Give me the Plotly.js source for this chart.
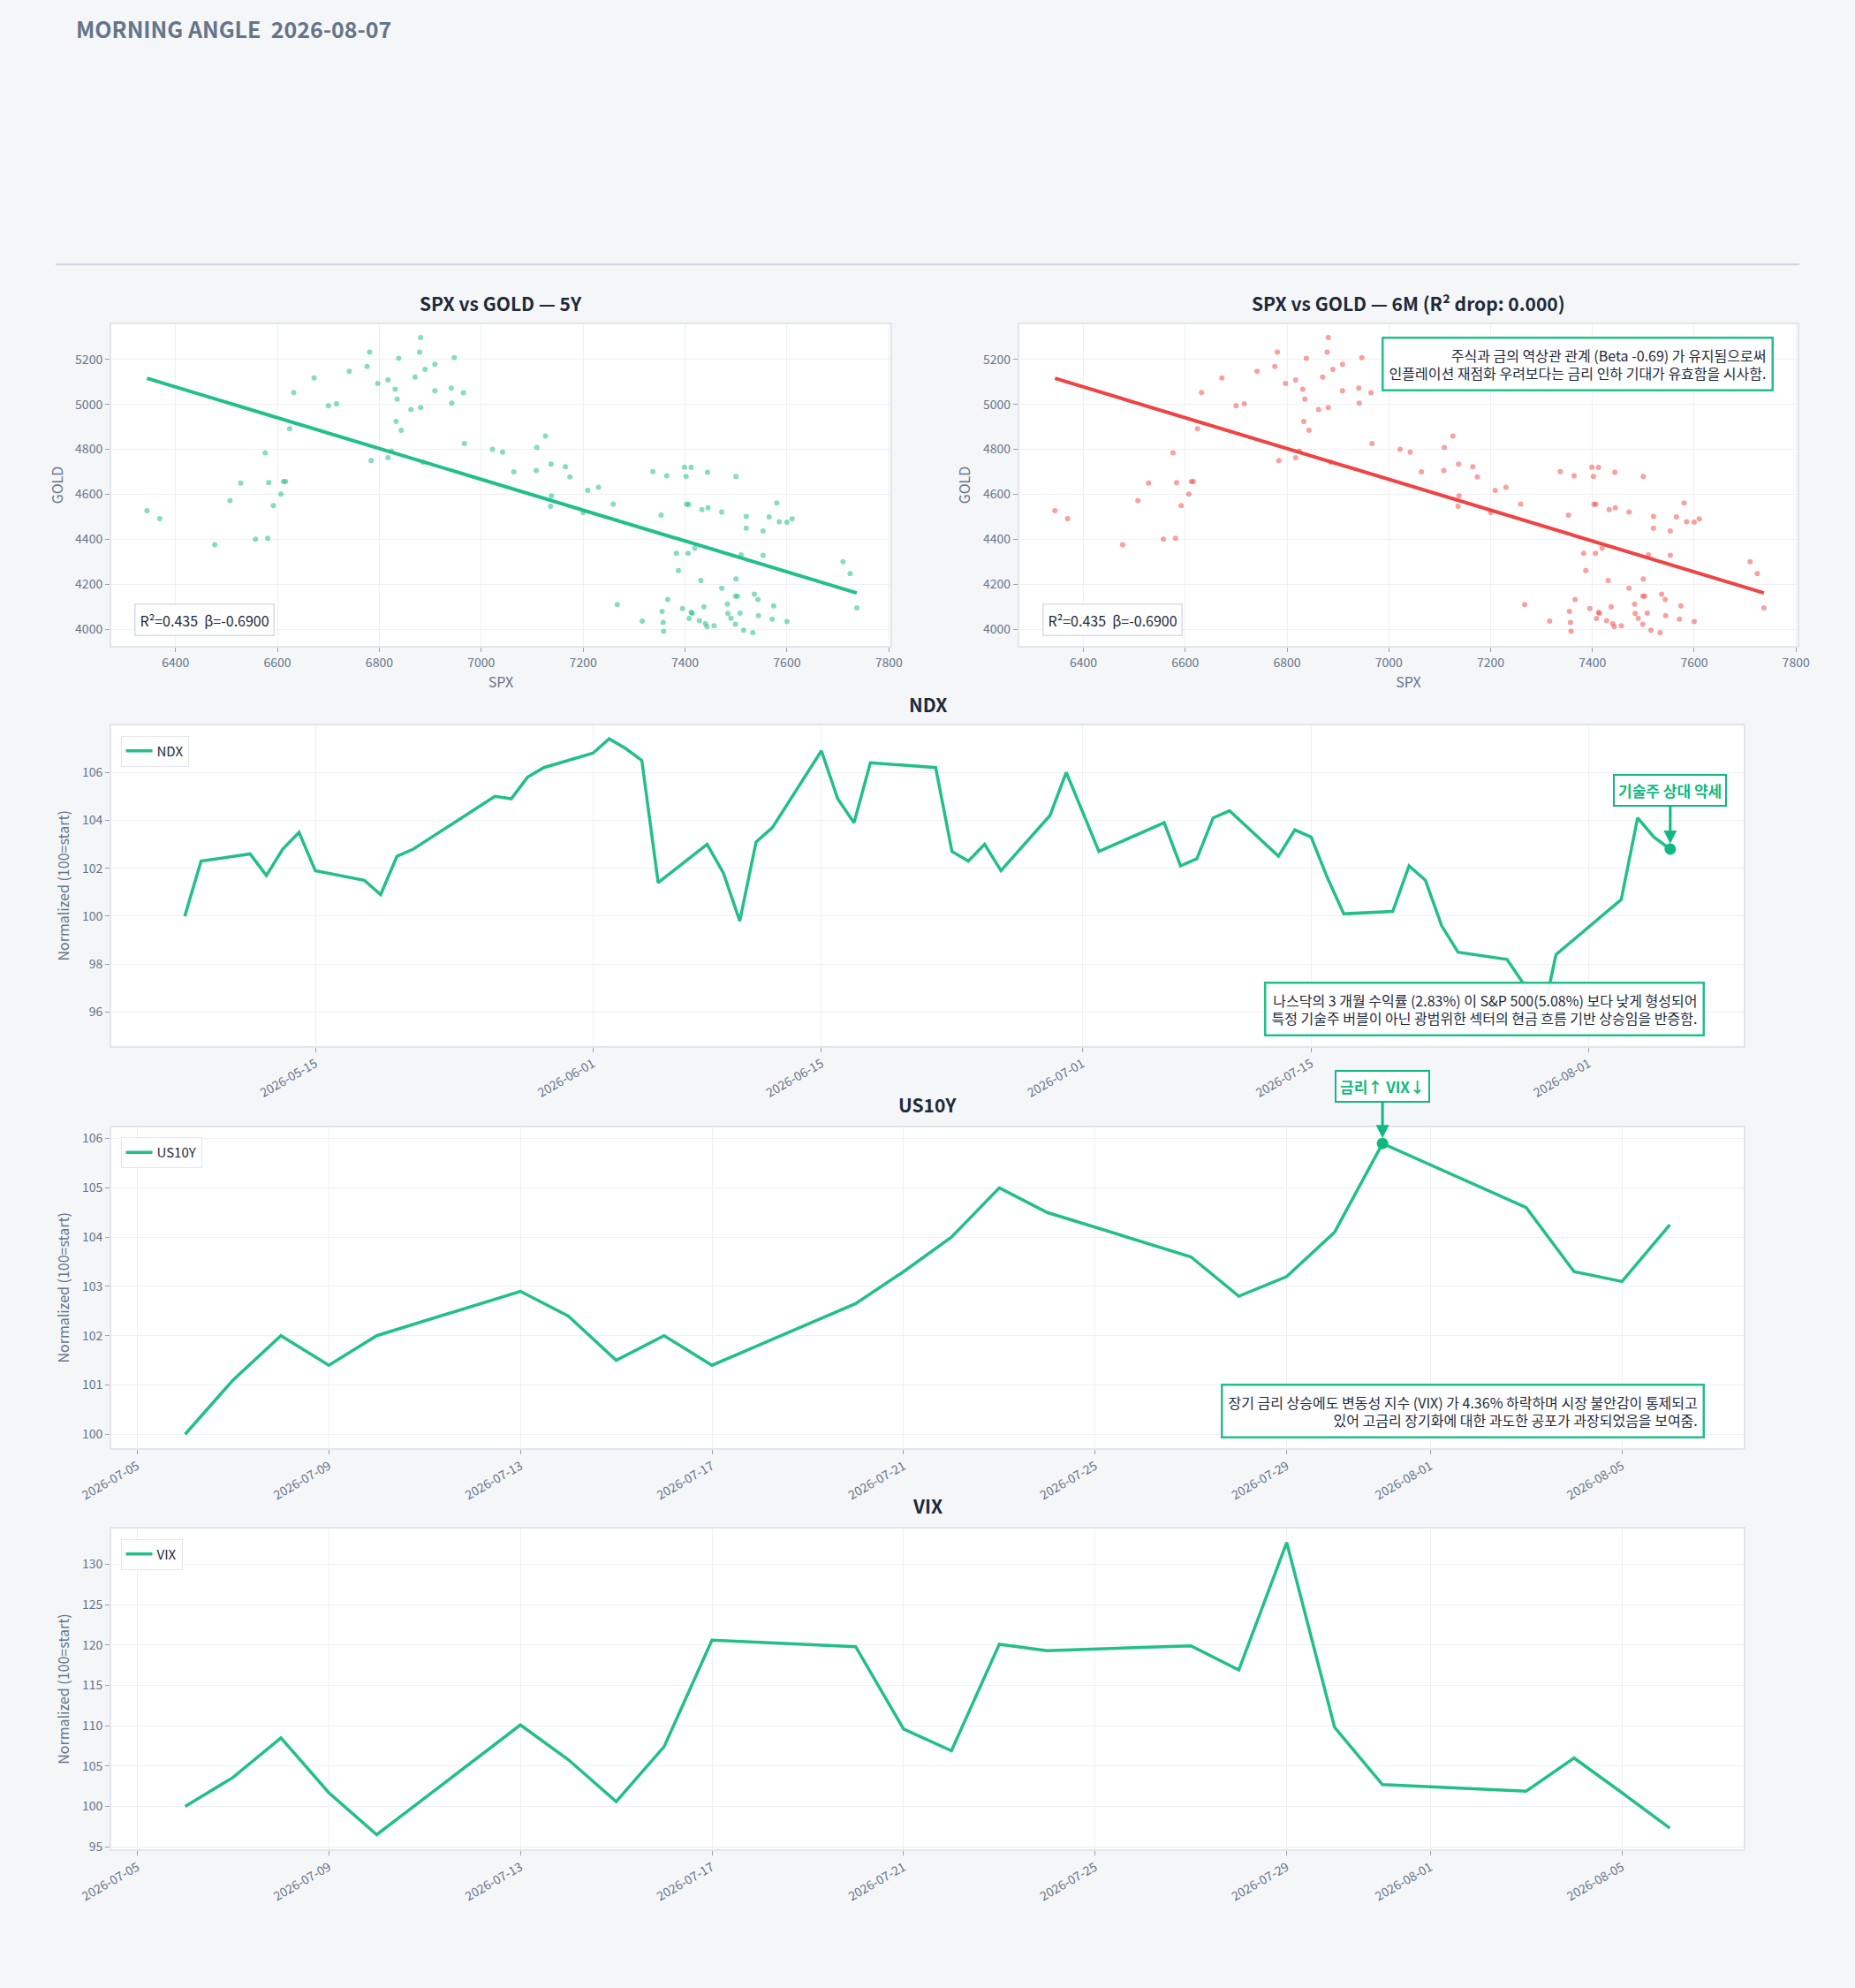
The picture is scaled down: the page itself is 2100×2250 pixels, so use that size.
<!DOCTYPE html>
<html>
<head>
<meta charset="utf-8">
<script src="https://cdn.plot.ly/plotly-3.0.1.min.js"></script>
<style>body{margin:0;background:#f5f6f8}#chart{width:2100px;height:2250px}</style>
</head>
<body>
<div id="chart"></div>
<script>
// ---------- data ----------
const spx = [6344,6369,6477,6507,6528,6557,6576,6581,6583,6592,6607,6612,6616,6624,6632,6672,6700,6716,6741,6776,6781,6784,6797,6817,6817,6824,6831,6833,6835,6838,6843,6862,6870,6879,6881,6881,6886,6890,6909,6909,6941,6942,6947,6965,6967,7022,7042,7064,7108,7109,7126,7137,7138,7136,7165,7174,7200,7209,7230,7259,7267,7316,7337,7353,7355,7357,7358,7364,7366,7383,7387,7395,7399,7402,7403,7406,7407,7408,7412,7412,7414,7419,7428,7431,7433,7437,7440,7443,7444,7445,7457,7472,7472,7483,7484,7490,7499,7500,7500,7499,7503,7508,7510,7515,7520,7520,7533,7536,7543,7544,7553,7553,7565,7571,7574,7580,7585,7600,7600,7610,7710,7724,7737];
const gold = [4527,4492,4376,4572,4650,4400,4784,4404,4652,4550,4601,4657,4657,4891,5053,5117,4994,5002,5147,5168,5232,4750,5093,5109,4763,4792,5067,4924,5023,5205,4885,4977,5121,5232,5297,4986,4743,5156,5178,5060,5072,5005,5208,5052,4826,4800,4787,4700,4706,4808,4859,4734,4593,4547,4723,4677,4519,4617,4631,4557,4110,4036,4701,4507,4079,4030,3991,4682,4132,4338,4261,4092,4721,4679,4556,4338,4556,4048,4720,4075,4070,4360,4038,4217,4532,4100,4025,4011,4698,4540,4015,4521,4182,4112,4070,4049,4147,4679,4224,4022,4147,4071,4331,3996,4502,4449,3985,4156,4132,4061,4437,4329,4500,4045,4104,4561,4478,4034,4476,4491,4300,4247,4095];
const statText = "R²=0.435  β=-0.6900";

const ndxDates = ["2026-05-07","2026-05-08","2026-05-11","2026-05-12","2026-05-13","2026-05-14","2026-05-15","2026-05-18","2026-05-19","2026-05-20","2026-05-21","2026-05-26","2026-05-27","2026-05-28","2026-05-29","2026-06-01","2026-06-02","2026-06-03","2026-06-04","2026-06-05","2026-06-08","2026-06-09","2026-06-10","2026-06-11","2026-06-12","2026-06-15","2026-06-16","2026-06-17","2026-06-18","2026-06-22","2026-06-23","2026-06-24","2026-06-25","2026-06-26","2026-06-29","2026-06-30","2026-07-02","2026-07-06","2026-07-07","2026-07-08","2026-07-09","2026-07-10","2026-07-13","2026-07-14","2026-07-15","2026-07-16","2026-07-17","2026-07-20","2026-07-21","2026-07-22","2026-07-23","2026-07-24","2026-07-27","2026-07-28","2026-07-29","2026-07-30","2026-08-03","2026-08-04","2026-08-05","2026-08-06"];
const ndxValues = [100.0,102.3,102.6,101.7,102.8,103.5,101.9,101.5,100.9,102.5,102.8,105.0,104.9,105.8,106.2,106.8,107.4,107.0,106.5,101.4,103.0,101.8,99.8,103.1,103.7,106.9,104.9,103.9,106.4,106.2,102.7,102.3,103.0,101.9,104.2,106.0,102.7,103.9,102.1,102.4,104.1,104.4,102.5,103.6,103.3,101.6,100.1,100.2,102.1,101.5,99.6,98.5,98.2,97.2,95.2,98.4,100.7,104.1,103.3,102.8];
const ndxTicks = ["2026-05-15","2026-06-01","2026-06-15","2026-07-01","2026-07-15","2026-08-01"];

const rateDates = ["2026-07-06","2026-07-07","2026-07-08","2026-07-09","2026-07-10","2026-07-13","2026-07-14","2026-07-15","2026-07-16","2026-07-17","2026-07-20","2026-07-21","2026-07-22","2026-07-23","2026-07-24","2026-07-27","2026-07-28","2026-07-29","2026-07-30","2026-07-31","2026-08-03","2026-08-04","2026-08-05","2026-08-06"];
const us10yValues = [100.0,101.1,102.0,101.4,102.0,102.9,102.4,101.5,102.0,101.4,102.65,103.3,104.0,105.0,104.5,103.6,102.8,103.2,104.1,105.9,104.6,103.3,103.1,104.25];
const vixValues = [100.0,103.6,108.5,101.7,96.5,110.1,105.8,100.6,107.4,120.6,119.8,109.6,106.9,120.1,119.3,119.9,116.9,132.7,109.8,102.7,101.9,106.0,101.7,97.3];
const rateTicks = ["2026-07-05","2026-07-09","2026-07-13","2026-07-17","2026-07-21","2026-07-25","2026-07-29","2026-08-01","2026-08-05"];

// ---------- helpers ----------
const GREEN = "#22bf8a", RED = "#ef4444", TICK = "#64748b", DARK = "#1e293b", GRID = "#eef0f3";
const FONT = "Noto Sans CJK KR, Noto Sans, sans-serif";

function fit(x, y) {
  const n = x.length;
  const mx = x.reduce((a, b) => a + b) / n, my = y.reduce((a, b) => a + b) / n;
  let sxy = 0, sxx = 0;
  for (let i = 0; i < n; i++) { sxy += (x[i] - mx) * (y[i] - my); sxx += (x[i] - mx) ** 2; }
  const b = sxy / sxx;
  return { b, a: my - b * mx };
}
const f = fit(spx, gold);
const fx = [Math.min(...spx), Math.max(...spx)];
const fy = fx.map(v => f.a + f.b * v);

const traces = [
  { type: "scatter", mode: "markers", x: spx, y: gold, xaxis: "x", yaxis: "y",
    marker: { color: GREEN, size: 6, opacity: 0.55 }, showlegend: false },
  { type: "scatter", mode: "lines", x: fx, y: fy, xaxis: "x", yaxis: "y",
    line: { color: GREEN, width: 4 }, showlegend: false },
  { type: "scatter", mode: "markers", x: spx, y: gold, xaxis: "x2", yaxis: "y2",
    marker: { color: RED, size: 6, opacity: 0.5 }, showlegend: false },
  { type: "scatter", mode: "lines", x: fx, y: fy, xaxis: "x2", yaxis: "y2",
    line: { color: RED, width: 4 }, showlegend: false },
  { type: "scatter", mode: "lines", name: "NDX", x: ndxDates, y: ndxValues, xaxis: "x3", yaxis: "y3",
    line: { color: GREEN, width: 3.5 }, legend: "legend" },
  { type: "scatter", mode: "markers", x: [ndxDates[ndxDates.length - 1]], y: [ndxValues[ndxValues.length - 1]],
    xaxis: "x3", yaxis: "y3", marker: { color: "#10b981", size: 13 }, showlegend: false },
  { type: "scatter", mode: "lines", name: "US10Y", x: rateDates, y: us10yValues, xaxis: "x4", yaxis: "y4",
    line: { color: GREEN, width: 3.5 }, legend: "legend2" },
  { type: "scatter", mode: "markers", x: ["2026-07-31"], y: [us10yValues[19]],
    xaxis: "x4", yaxis: "y4", marker: { color: "#10b981", size: 13 }, showlegend: false },
  { type: "scatter", mode: "lines", name: "VIX", x: rateDates, y: vixValues, xaxis: "x5", yaxis: "y5",
    line: { color: GREEN, width: 3.5 }, legend: "legend3" }
];

const tickf = { size: 14, color: TICK, family: FONT };
function ax(extra) {
  return Object.assign({ showgrid: true, gridcolor: GRID, zeroline: false, showline: true, mirror: true,
    linecolor: "#e2e6ec", linewidth: 2, ticks: "outside", tickcolor: "#94a3b8", ticklen: 5, tickfont: tickf }, extra);
}
function dateAx(domain, anchor, range, ticks) {
  return ax({ domain: domain, anchor: anchor, type: "date", range: range, tickmode: "array",
    tickvals: ticks, ticktext: ticks, tickangle: -30 });
}
const ytitle = t => ({ text: t, font: { size: 16, color: TICK, family: FONT }, standoff: 10 });
const legendBox = y => ({ x: 0.065, y: y, xanchor: "left", yanchor: "top", bgcolor: "rgba(255,255,255,0.9)",
  bordercolor: "#e2e6ec", borderwidth: 1, font: { size: 15, color: DARK, family: FONT } });

function title(text, x, y) {
  return { text: "<b>" + text + "</b>", xref: "paper", yref: "paper", x: x, y: y, xanchor: "center", yanchor: "middle",
    showarrow: false, font: { size: 21, color: DARK, family: FONT } };
}
function note(text, xref, yref, x, y, xa, ya) {
  return { text: text, xref: xref, yref: yref, x: x, y: y, xanchor: xa, yanchor: ya, align: "right",
    showarrow: false, bgcolor: "rgba(255,255,255,0.92)", bordercolor: "#22bf8a", borderwidth: 2.5, borderpad: 6,
    font: { size: 16, color: DARK, family: FONT } };
}
function stat(xr, yr) {
  return { text: statText, xref: xr + " domain", yref: yr + " domain",
    x: 0.03, y: 0.03, xanchor: "left", yanchor: "bottom", showarrow: false, bgcolor: "white", bordercolor: "#d7dce3",
    borderwidth: 1.5, borderpad: 5, font: { size: 16, color: DARK, family: FONT } };
}

const layout = {
  width: 2100, height: 2250,
  margin: { l: 0, r: 0, t: 0, b: 0 },
  paper_bgcolor: "#f5f6f8", plot_bgcolor: "white",
  font: { family: FONT },
  xaxis: ax({ domain: [0.06, 0.48], anchor: "y", range: [6274, 7803], dtick: 200,
    title: { text: "SPX", font: { size: 16, color: TICK, family: FONT }, standoff: 8 } }),
  yaxis: ax({ domain: [0.675, 0.837], anchor: "x", range: [3925, 5357], dtick: 200, title: ytitle("GOLD") }),
  xaxis2: ax({ domain: [0.5495, 0.969], anchor: "y2", range: [6274, 7803], dtick: 200,
    title: { text: "SPX", font: { size: 16, color: TICK, family: FONT }, standoff: 8 } }),
  yaxis2: ax({ domain: [0.675, 0.837], anchor: "x2", range: [3925, 5357], dtick: 200, title: ytitle("GOLD") }),
  xaxis3: dateAx([0.06, 0.94], "y3", ["2026-05-02 12:00", "2026-08-10 12:00"], ndxTicks),
  yaxis3: ax({ domain: [0.474, 0.635], anchor: "x3", range: [94.6, 107.95], dtick: 2, title: ytitle("Normalized (100=start)") }),
  xaxis4: dateAx([0.06, 0.94], "y4", ["2026-07-04 11:00", "2026-08-07 13:00"], rateTicks),
  yaxis4: ax({ domain: [0.2716, 0.433], anchor: "x4", range: [99.72, 106.23], dtick: 1, title: ytitle("Normalized (100=start)") }),
  xaxis5: dateAx([0.06, 0.94], "y5", ["2026-07-04 11:00", "2026-08-07 13:00"], rateTicks),
  yaxis5: ax({ domain: [0.0698, 0.231], anchor: "x5", range: [94.7, 134.4], dtick: 5, title: ytitle("Normalized (100=start)") }),
  legend: legendBox(0.63),
  legend2: legendBox(0.428),
  legend3: legendBox(0.226),
  shapes: [
    { type: "line", xref: "paper", yref: "paper", x0: 0.03, x1: 0.97, y0: 0.867, y1: 0.867,
      line: { color: "#cbd5e1", width: 2 } }
  ],
  annotations: [
    { text: "<b>MORNING ANGLE  2026-08-07</b>", xref: "paper", yref: "paper", x: 0.04, y: 0.986,
      xanchor: "left", yanchor: "middle", showarrow: false, font: { size: 25, color: "#64748b", family: FONT } },
    title("SPX vs GOLD — 5Y", 0.27, 0.8476),
    title("SPX vs GOLD — 6M (R² drop: 0.000)", 0.7595, 0.8476),
    title("NDX", 0.5, 0.646),
    title("US10Y", 0.5, 0.4445),
    title("VIX", 0.5, 0.2427),
    stat("x", "y"),
    stat("x2", "y2"),
    note("주식과 금의 역상관 관계 (Beta -0.69) 가 유지됨으로써<br>인플레이션 재점화 우려보다는 금리 인하 기대가 유효함을 시사함.",
      "x2 domain", "y2 domain", 0.97, 0.96, "right", "top"),
    note("나스닥의 3 개월 수익률 (2.83%) 이 S&P 500(5.08%) 보다 낮게 형성되어<br>특정 기술주 버블이 아닌 광범위한 섹터의 현금 흐름 기반 상승임을 반증함.",
      "x3 domain", "y3 domain", 0.976, 0.03, "right", "bottom"),
    note("장기 금리 상승에도 변동성 지수 (VIX) 가 4.36% 하락하며 시장 불안감이 통제되고<br>있어 고금리 장기화에 대한 과도한 공포가 과장되었음을 보여줌.",
      "x4 domain", "y4 domain", 0.976, 0.03, "right", "bottom"),
    { text: "<b>기술주 상대 약세</b>", xref: "x3", yref: "y3", x: ndxDates[ndxDates.length - 1], y: ndxValues[ndxValues.length - 1],
      ax: 0, ay: -66, showarrow: true, arrowhead: 2, arrowsize: 1, arrowwidth: 3, arrowcolor: "#10b981", standoff: 6,
      bgcolor: "white", bordercolor: "#10b981", borderwidth: 2, borderpad: 4,
      font: { size: 17, color: "#10b981", family: FONT } },
    { text: "<b>금리↑ VIX↓</b>", xref: "x4", yref: "y4", x: "2026-07-31", y: us10yValues[19],
      ax: 0, ay: -65, showarrow: true, arrowhead: 2, arrowsize: 1, arrowwidth: 3, arrowcolor: "#10b981", standoff: 6,
      bgcolor: "white", bordercolor: "#10b981", borderwidth: 2, borderpad: 4,
      font: { size: 17, color: "#10b981", family: FONT } }
  ]
};

Plotly.newPlot("chart", traces, layout, { displayModeBar: false });
</script>
</body>
</html>
